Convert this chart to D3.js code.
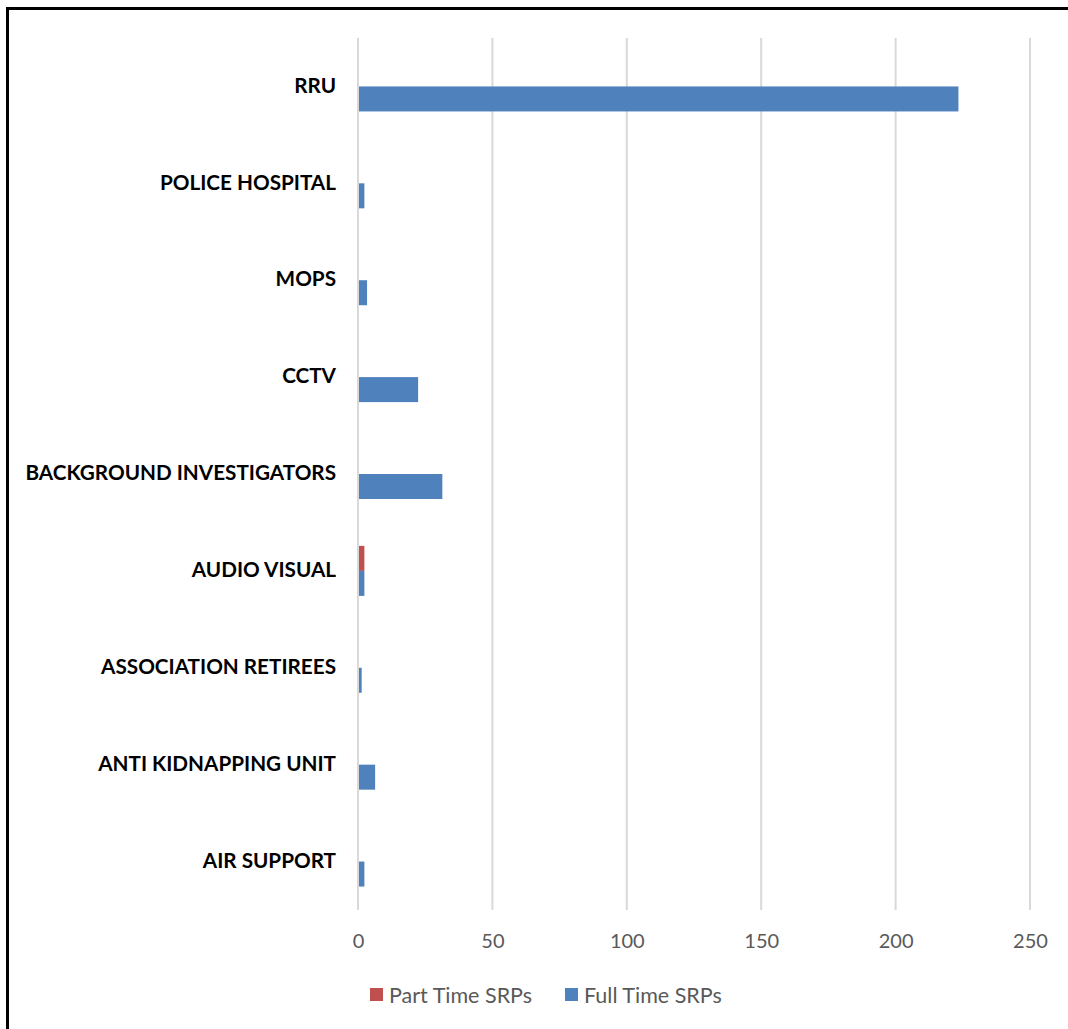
<!DOCTYPE html>
<html>
<head>
<meta charset="utf-8">
<script src="https://cdn.jsdelivr.net/npm/d3@7"></script>
<style>
  html, body { margin: 0; padding: 0; background: #fff; }
  svg { display: block; }
</style>
</head>
<body>
<svg id="chart" width="1068" height="1029"></svg>
<script>
// Units, listed top to bottom
const units = [
  "RRU",
  "POLICE HOSPITAL",
  "MOPS",
  "CCTV",
  "BACKGROUND INVESTIGATORS",
  "AUDIO VISUAL",
  "ASSOCIATION RETIREES",
  "ANTI KIDNAPPING UNIT",
  "AIR SUPPORT"
];
const partTime = [0, 0, 0, 0, 0, 2, 0, 0, 0];
const fullTime = [223, 2, 3, 22, 31, 2, 1, 6, 2];
const xTicks = [0, 50, 100, 150, 200, 250];
const seriesNames = ["Part Time SRPs", "Full Time SRPs"];
const seriesColors = ["#C0504D", "#4F81BD"];

const svg = d3.select("#chart");
const font = "Lato, 'Open Sans', sans-serif";

// outer frame
svg.append("rect")
  .attr("x", 7.5).attr("y", 8.5)
  .attr("width", 1100).attr("height", 1100)
  .attr("fill", "none").attr("stroke", "#000").attr("stroke-width", 3);

const plot = { left: 358, right: 1030, top: 38, bottom: 910 };

const x = d3.scaleLinear().domain([0, 250]).range([plot.left, plot.right]);
const y = d3.scaleBand().domain(units).range([plot.top, plot.bottom]);

// vertical gridlines
svg.append("g").selectAll("line").data(xTicks).join("line")
  .attr("x1", d => x(d)).attr("x2", d => x(d))
  .attr("y1", plot.top).attr("y2", plot.bottom)
  .attr("stroke", "#D9D9D9").attr("stroke-width", 2);

// x axis labels
const xAxis = d3.axisBottom(x).tickValues(xTicks).tickSize(0).tickPadding(0);
const gx = svg.append("g").attr("transform", `translate(0,${plot.bottom + 24})`).call(xAxis);
gx.select(".domain").remove();
gx.selectAll("text")
  .attr("font-family", font).attr("font-size", 20).attr("fill", "#595959");

// bars: part time above the band centre, full time below
const barH = 25;
const rows = units.map((u, i) => ({ unit: u, part: partTime[i], full: fullTime[i] }));
const center = d => y(d.unit) + y.bandwidth() / 2;

svg.append("g").selectAll("rect").data(rows.filter(d => d.part > 0)).join("rect")
  .attr("x", x(0) + 1).attr("y", d => center(d) - barH)
  .attr("width", d => x(d.part) - x(0)).attr("height", barH)
  .attr("fill", seriesColors[0]);

svg.append("g").selectAll("rect").data(rows.filter(d => d.full > 0)).join("rect")
  .attr("x", x(0) + 1).attr("y", d => center(d))
  .attr("width", d => x(d.full) - x(0)).attr("height", barH)
  .attr("fill", seriesColors[1]);

// category labels
const yAxis = d3.axisLeft(y).tickSize(0).tickPadding(22);
const gy = svg.append("g").attr("transform", `translate(${plot.left},0)`).call(yAxis);
gy.select(".domain").remove();
gy.selectAll("text")
  .attr("dy", "0.3em")
  .attr("font-family", font).attr("font-size", 20.7).attr("font-weight", "bold").attr("fill", "#000");

// legend
const legendX = [370, 565];
const legend = svg.append("g").selectAll("g").data(seriesNames).join("g")
  .attr("transform", (d, i) => `translate(${legendX[i]},995)`);
legend.append("rect")
  .attr("x", 0).attr("y", -7).attr("width", 13).attr("height", 13)
  .attr("fill", (d, i) => seriesColors[i]);
legend.append("text")
  .attr("x", 19).attr("y", 0).attr("dy", "0.35em")
  .attr("font-family", font).attr("font-size", 21.5).attr("fill", "#595959")
  .text(d => d);
</script>
</body>
</html>
